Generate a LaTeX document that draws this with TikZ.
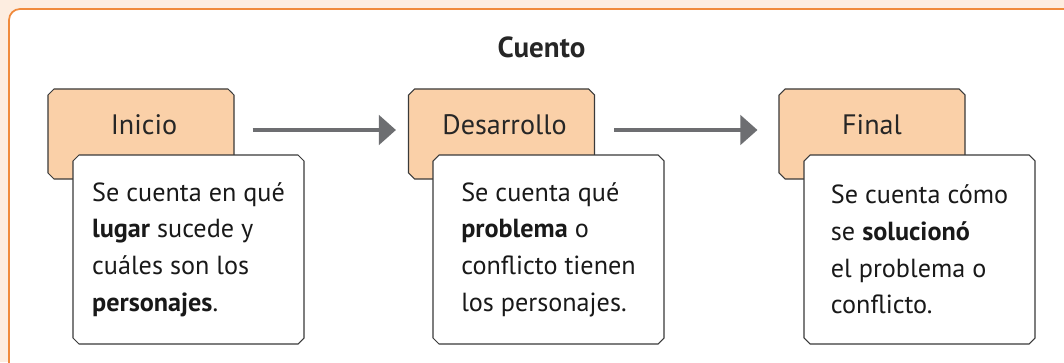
\documentclass[tikz,border=0pt]{standalone}
\usepackage{fontspec}
\setmainfont{PT Sans}
\usepackage{tikz}
\usetikzlibrary{arrows.meta,shapes.misc}
\definecolor{fondo}{HTML}{FDEDE0}
\definecolor{bordenaranja}{HTML}{F08A3C}
\definecolor{naranjaclaro}{HTML}{FAD0A8}
\definecolor{grisflecha}{HTML}{6D6E71}
\definecolor{lineabox}{HTML}{3A3A3A}
\tikzset{
  etapa/.style={
    chamfered rectangle, chamfered rectangle xsep=0.06cm, chamfered rectangle ysep=0.06cm,
    minimum width=3.72cm, minimum height=1.8cm, draw=lineabox, line width=0.6pt, fill=naranjaclaro,
  },
  detalle/.style={
    chamfered rectangle, chamfered rectangle xsep=0.06cm, chamfered rectangle ysep=0.06cm,
    minimum width=4.62cm, minimum height=3.78cm, draw=lineabox, line width=0.6pt, fill=white,
    align=left, font=\fontsize{14.9}{20.9}\selectfont, text=black!90,
  },
  titulo/.style={font=\fontsize{16}{18}\selectfont, text=black!85},
  flecha/.style={grisflecha, line width=2.8pt, -{Triangle[length=0.34cm, width=0.58cm]}},
}

\begin{document}
\begin{tikzpicture}
                \useasboundingbox (0, 0) rectangle (21.28, 7.24);
                \fill[fondo] (0, 0) rectangle (21.28, 7.24);
                \clip (0, 0) rectangle (21.28, 7.24);
                \draw[bordenaranja, line width=1pt, fill=white, rounded corners=0.22cm] (0.18, -0.5) rectangle (22.0, 7.06);

                \node[titulo, font=\fontsize{16.5}{18}\selectfont\bfseries] (cuento) at (10.83, 6.30) {Cuento};

                \node[etapa] (inicio)     at (2.82, 4.56) {};
                \node[etapa] (desarrollo) at (10.03, 4.56) {};
                \node[etapa] (final)      at (17.44, 4.56) {};

                \node[titulo] (tinicio)     at (2.88, 4.74) {Inicio};
                \node[titulo] (tdesarrollo) at (10.09, 4.74) {Desarrollo};
                \node[titulo] (tfinal)      at (17.44, 4.74) {Final};

                \node[detalle] (dinicio)     at (3.77, 2.25) {Se cuenta en qué\\\textbf{lugar} sucede y\\cuáles son los\\\textbf{personajes}.};
                \node[detalle] (ddesarrollo) at (10.97, 2.25) {Se cuenta qué\\\textbf{problema} o\\conflicto tienen\\los personajes.};
                \node[detalle] (dfinal)      at (18.39, 2.25) {Se cuenta cómo\\se \textbf{solucionó}\\el problema o\\conflicto.};


                \draw[flecha, shorten <=0.36cm, shorten >=0.24cm] ([yshift=0.08cm]inicio.east) -- ([yshift=0.08cm]desarrollo.west);
                \draw[flecha, shorten <=0.38cm, shorten >=0.42cm] ([yshift=0.08cm]desarrollo.east) -- ([yshift=0.08cm]final.west);
            \end{tikzpicture}
\end{document}
